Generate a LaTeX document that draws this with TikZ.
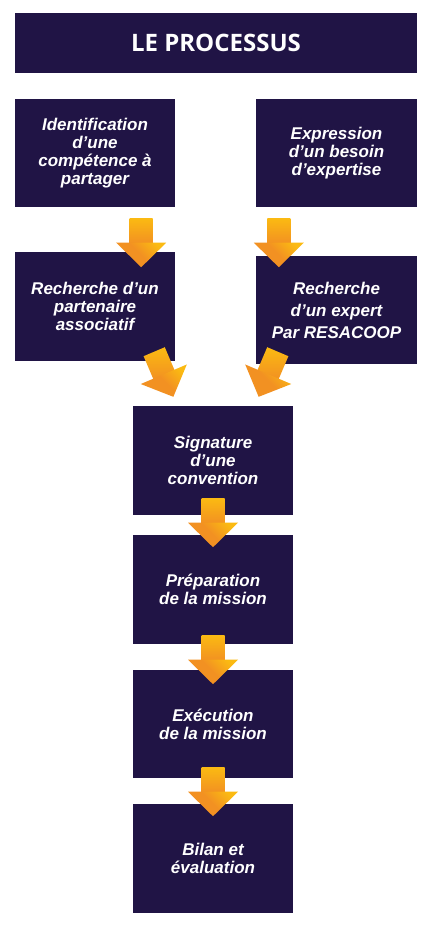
\documentclass[tikz,border=0pt]{standalone}
\usepackage{fontspec}
\setmainfont{Liberation Sans}
\newfontfamily\titlefont{Open Sans}
\usetikzlibrary{calc}
\definecolor{navy}{HTML}{201445}
\definecolor{arY}{HTML}{FBBA12}
\definecolor{arO}{HTML}{F29122}
\tikzset{
  box/.style={fill=navy, inner sep=0pt, text=white, align=center,
    font=\fontsize{17}{18}\selectfont\bfseries\itshape},
  blockarrow/.pic={
    \shade[top color=arY, bottom color=arO] (-11.5,0) rectangle (11.5,25);
    \shade[top color=arY, bottom color=arO, middle color=arO, shading angle=-45]
      (-25,24.5) -- (25,24.5) -- (0,49) -- cycle;
  }
}
\begin{document}
\begin{tikzpicture}[x=1pt, y=-1pt]
\useasboundingbox (0,0) rectangle (429,926);
\fill[white] (0,0) rectangle (429,926);
% title
\node[fill=navy, minimum width=402pt, minimum height=60pt, inner sep=0pt,
  text=white, font=\titlefont\fontsize{24}{26}\selectfont\bfseries] (title) at (216,43) {LE PROCESSUS};
% boxes
\node[box, minimum width=160pt, minimum height=108pt] (b1) at (95,153)
  {Identification\\d’une\\compétence à\\partager};
\node[box, minimum width=161pt, minimum height=108pt] (b2) at (336.5,153)
  {Expression\\d’un besoin\\d’expertise};
\node[box, minimum width=160pt, minimum height=109pt] (b3) at (95,306.5)
  {Recherche d’un\\partenaire\\associatif};
\node[box, minimum width=161pt, minimum height=108pt,
  font=\fontsize{17}{22}\selectfont\bfseries\itshape] (b4) at (336.5,310)
  {Recherche\\d’un expert\\Par RESACOOP};
\node[box, minimum width=160pt, minimum height=109pt] (s) at (213,460.5)
  {Signature\\d’une\\convention};
\node[box, minimum width=160pt, minimum height=109pt] (p) at (213,589.5)
  {Préparation\\de la mission};
\node[box, minimum width=160pt, minimum height=108pt] (e) at (213,724)
  {Exécution\\de la mission};
\node[box, minimum width=160pt, minimum height=109pt] (bl) at (213,858.5)
  {Bilan et\\évaluation};
% arrow anchors
\coordinate (a1) at ($(b1.south east)+(-34,11)$);
\coordinate (a2) at ($(b2.south west)+(23,11)$);
\coordinate (a3) at ($(b3.south east)+(-21,-9.5)$);
\coordinate (a4) at ($(b4.south west)+(22,-12.5)$);
\coordinate (a5) at ($(s.south)+(0,-17)$);
\coordinate (a6) at ($(p.south)+(0,-9)$);
\coordinate (a7) at ($(e.south)+(0,-11)$);
\pic at (a1) {blockarrow};
\pic at (a2) {blockarrow};
\pic[rotate=23] at (a3) {blockarrow};
\pic[rotate=-23] at (a4) {blockarrow};
\pic at (a5) {blockarrow};
\pic at (a6) {blockarrow};
\pic at (a7) {blockarrow};
\end{tikzpicture}
\end{document}
